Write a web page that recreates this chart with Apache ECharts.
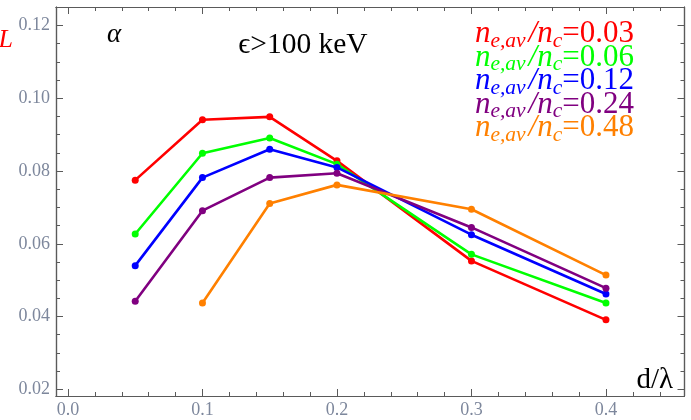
<!DOCTYPE html>
<html>
<head>
<meta charset="utf-8">
<script src="https://cdn.jsdelivr.net/npm/echarts@6/dist/echarts.min.js"></script>
<style>
  html, body { margin: 0; padding: 0; background: #fff; }
  #chart { width: 691px; height: 420px; }
</style>
</head>
<body>
<div id="chart"></div>
<script>
// d/λ sampling positions
const thickness = [0.05, 0.1, 0.15, 0.2, 0.3, 0.4];

// α for each plasma density n_e,av/n_c
const alphaN003 = [0.0775, 0.0941, 0.0949, 0.0828, 0.0553, 0.0391];
const alphaN006 = [0.0627, 0.0849, 0.0891, 0.0819, 0.0571, 0.0437];
const alphaN012 = [0.0540, 0.0782, 0.0860, 0.0810, 0.0625, 0.0462];
const alphaN024 = [0.0442, 0.0691, 0.0782, 0.0794, 0.0645, 0.0478];
const alphaN048 = [null, 0.0437, 0.0711, 0.0762, 0.0695, 0.0514];

const densityLabels = ['0.03', '0.06', '0.12', '0.24', '0.48'];
const seriesColors = ['#ff0000', '#00ff00', '#0000ff', '#800080', '#ff8000'];

// frame tick marks
const xMajorTicks = [0.0, 0.1, 0.2, 0.3, 0.4];
const yMajorTicks = [0.02, 0.04, 0.06, 0.08, 0.10, 0.12];
const xTickLabels = ['0.0', '0.1', '0.2', '0.3', '0.4'];
const yTickLabels = ['0.02', '0.04', '0.06', '0.08', '0.10', '0.12'];

const xMinorTicks = [];
for (let i = 1; i <= 22; i++) if (i % 5 !== 0) xMinorTicks.push(i / 50);
const yMinorTicks = [];
for (let i = 4; i <= 24; i++) if (i % 4 !== 0) yMinorTicks.push(i / 200);

const X_MIN = -0.0089, X_MAX = 0.4584;
const Y_MIN = 0.01816, Y_MAX = 0.1251;

const SERIF = '"Liberation Serif", "DejaVu Serif", serif';
const FRAME = '#5a5a5a';
const TICKTXT = '#7d879c';

function frameAxis(kind, position, ticks, len, labels) {
  const isX = kind === 'x';
  return {
    type: 'value',
    position: position,
    min: isX ? X_MIN : Y_MIN,
    max: isX ? X_MAX : Y_MAX,
    axisLine: { show: true, onZero: false, lineStyle: { color: FRAME, width: 1.2 } },
    axisTick: {
      show: true, inside: true, length: len, customValues: ticks,
      lineStyle: { color: FRAME, width: 1 }
    },
    axisLabel: labels ? {
      show: true,
      customValues: ticks,
      color: TICKTXT,
      fontFamily: SERIF,
      fontSize: 18,
      margin: isX ? 5 : 6,
      formatter: function (v) {
        const idx = ticks.findIndex(t => Math.abs(t - v) < 1e-9);
        return idx >= 0 ? labels[idx] : '';
      }
    } : { show: false },
    splitLine: { show: false }
  };
}

const alphaSets = [alphaN003, alphaN006, alphaN012, alphaN024, alphaN048];

const series = alphaSets.map((vals, k) => ({
  type: 'line',
  xAxisIndex: 0,
  yAxisIndex: 0,
  data: thickness.map((x, i) => [x, vals[i]]).filter(p => p[1] !== null),
  symbol: 'circle',
  symbolSize: 7,
  lineStyle: { color: seriesColors[k], width: 2.6 },
  itemStyle: { color: seriesColors[k] },
  z: 2 + k,
  animation: false
}));

function densityText(label, color, y) {
  const base = { fontFamily: SERIF, fontSize: 31, lineHeight: 36, fill: color, verticalAlign: 'middle' };
  const it = Object.assign({}, base, { fontStyle: 'italic' });
  const slash = Object.assign({}, it, { padding: [0, 0, 0, 3] });
  const sub = { fontFamily: SERIF, fontSize: 21.5, lineHeight: 22, fontStyle: 'italic', fill: color, verticalAlign: 'bottom' };
  return {
    type: 'text',
    x: 634,
    y: y,
    style: {
      text: '{n|n}{s|e,av}{sl|/}{n|n}{s|c}{v|=' + label + '}',
      rich: { n: it, s: sub, sl: slash, v: base },
      fill: color,
      align: 'right',
      verticalAlign: 'middle'
    },
    z: 20
  };
}

const graphics = [
  {
    type: 'text', x: 13, y: 40,
    style: { text: 'L', fontFamily: SERIF, fontSize: 26, fontStyle: 'italic', fill: '#ff0000', align: 'right', verticalAlign: 'middle' }
  },
  {
    type: 'text', x: 107, y: 35,
    style: { text: 'α', fontFamily: SERIF, fontSize: 27, fontStyle: 'italic', fill: '#000', align: 'left', verticalAlign: 'middle' }
  },
  {
    type: 'text', x: 303, y: 45,
    style: { text: 'ϵ>100 keV', fontFamily: SERIF, fontSize: 29.5, fill: '#000', align: 'center', verticalAlign: 'middle' }
  },
  {
    type: 'text', x: 673, y: 380,
    style: { text: 'd/λ', fontFamily: SERIF, fontSize: 29, fill: '#000', align: 'right', verticalAlign: 'middle' }
  }
];
densityLabels.forEach((lab, k) => graphics.push(densityText(lab, seriesColors[k], 34 + k * 23.5)));

const chart = echarts.init(document.getElementById('chart'), null, { renderer: 'canvas' });
chart.setOption({
  backgroundColor: '#ffffff',
  animation: false,
  grid: { left: 56, right: 6.5, top: 7, bottom: 24, containLabel: false },
  xAxis: [
    frameAxis('x', 'bottom', xMajorTicks, 7, xTickLabels),
    frameAxis('x', 'bottom', xMinorTicks, 4, null),
    frameAxis('x', 'top', xMajorTicks, 7, null),
    frameAxis('x', 'top', xMinorTicks, 4, null)
  ],
  yAxis: [
    frameAxis('y', 'left', yMajorTicks, 7, yTickLabels),
    frameAxis('y', 'left', yMinorTicks, 4, null),
    frameAxis('y', 'right', yMajorTicks, 7, null),
    frameAxis('y', 'right', yMinorTicks, 4, null)
  ],
  series: series,
  graphic: graphics
});
</script>
</body>
</html>
